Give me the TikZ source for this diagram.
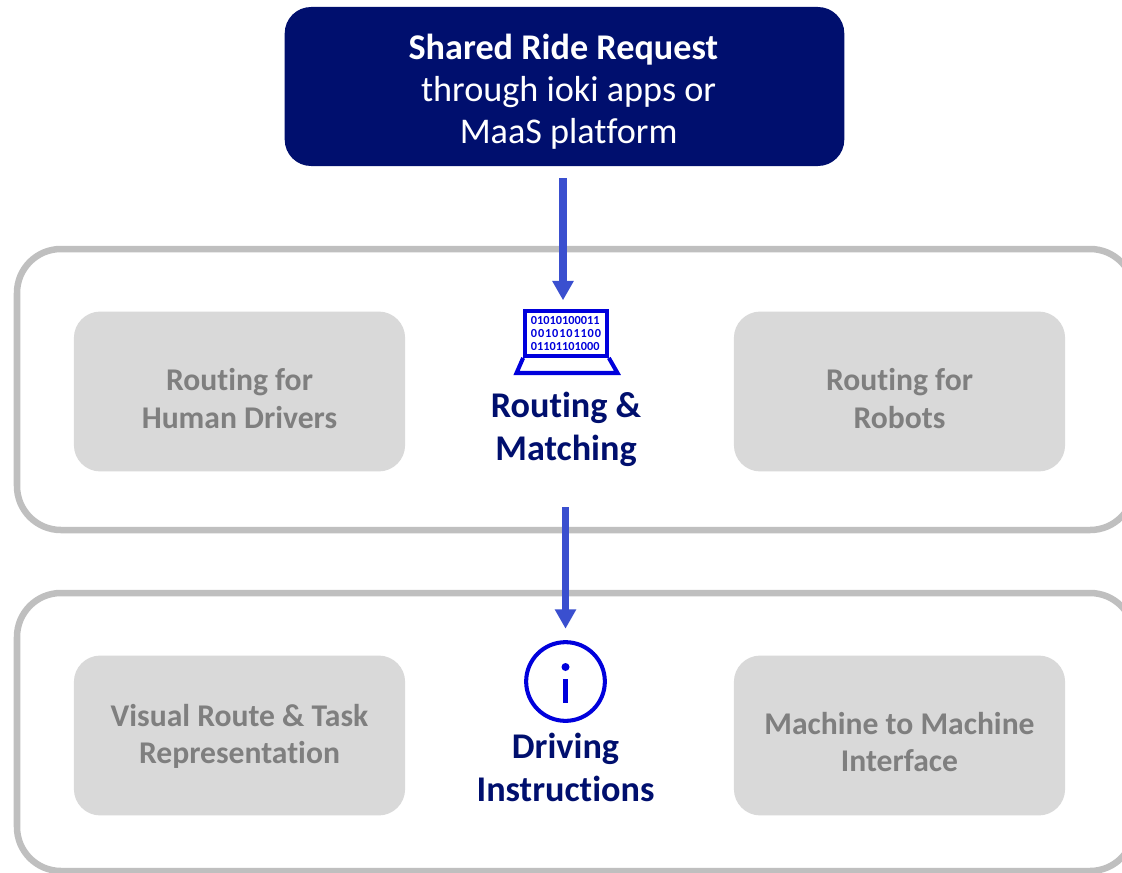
\documentclass[tikz,border=0pt]{standalone}
\usepackage{fontspec}
\setmainfont[Ligatures=NoCommon]{Carlito}
\usetikzlibrary{arrows.meta}
\definecolor{navy}{HTML}{000F6E}
\definecolor{iconblue}{HTML}{0000DC}
\definecolor{arrowblue}{HTML}{3A4FCF}
\definecolor{outergray}{HTML}{BFBFBF}
\definecolor{boxgray}{HTML}{D9D9D9}
\definecolor{textgray}{HTML}{7F7F7F}
\tikzset{
  layerbox/.style={draw=outergray,line width=3.7pt,rounded corners=25pt,fill=white},
  routebox/.style={fill=boxgray,rounded corners=15pt,minimum width=188.5pt,minimum height=91pt,inner sep=0pt},
  routetext/.style={text=textgray,font=\fontsize{18}{21.3}\selectfont\bfseries,align=center,inner sep=0pt},
  title/.style={text=navy,font=\fontsize{20.6}{24.4}\selectfont\bfseries,align=center,inner sep=0pt},
  flow/.style={arrowblue,line width=4pt,-{Triangle[length=11pt,width=11.5pt]}},
  iconline/.style={draw=iconblue,line width=2.3pt}
}
\begin{document}
\begin{tikzpicture}[x=0.02cm,y=-0.02cm]
  \useasboundingbox (0,0) rectangle (1122,872);
  \clip (0,0) rectangle (1122,872);
  %layers
  \draw[layerbox] (17,249) rectangle (1134,530);
  \draw[layerbox] (17,593) rectangle (1134,871);
  %request
  \node[fill=navy,rounded corners=15pt,minimum width=318.5pt,minimum height=90.5pt,inner sep=0pt] (request) at (564.5,86.5) {};
  \node[title,text=white,font=\fontsize{20.6}{24}\selectfont] (requesttext) at (566,91.5)
    {\textbf{Shared Ride Request}\hspace*{3pt}\\\hspace*{3pt}through ioki apps or\\\hspace*{3pt}MaaS platform};
  %routing boxes
  \node[routebox] (human) at (239.5,391.5) {};
  \node[routebox] (robots) at (899.5,391.5) {};
  \node[routebox] (visual) at (239.5,735.5) {};
  \node[routebox] (machine) at (899.5,735.5) {};
  \node[routetext] (humantext) at (human) [yshift=-4pt] {Routing for\\Human Drivers};
  \node[routetext] (robotstext) at (robots) [yshift=-4pt] {Routing for\\Robots};
  \node[routetext] (visualtext) at (visual) [yshift=-0.5pt] {Visual Route \& Task\\Representation};
  \node[routetext] (machinetext) at (machine) [yshift=-3.8pt] {Machine to Machine\\Interface};
  %laptop
  \node[iconline,minimum width=46.5pt,minimum height=25.5pt,inner sep=0pt,align=left,text=iconblue,
    font=\fontsize{7}{7.2}\selectfont\bfseries] (screen) at (566,333.5)
    {01010100011\\{\addfontfeature{LetterSpace=7}0010101100}\\01101101000};
  \draw[iconline,miter limit=10] (screen.south west) -- (516.5,373) -- (617.5,373) -- (screen.south east);
  \node[title] (routing) at (566,429) {Routing \&\\Matching};
  %info
  \node[circle,iconline,minimum size=44.8pt,inner sep=0pt] (info) at (565.5,681.5) {};
  \fill[iconblue] (565.5,667) circle (4);
  \fill[iconblue] (563,679) rectangle (568,703);
  \node[title] (driving) at (565.5,767) {Driving\\Instructions};
  %arrows
  \coordinate (flowA) at (563,0);
  \coordinate (flowB) at (565.5,0);
  \draw[flow,shorten <=6.8pt,shorten >=5pt] (request.south-|flowA) -- (screen.north-|flowA);
  \draw[flow,shorten <=23.3pt,shorten >=6.5pt] (routing.south-|flowB) -- (info.north-|flowB);
\end{tikzpicture}
\end{document}
